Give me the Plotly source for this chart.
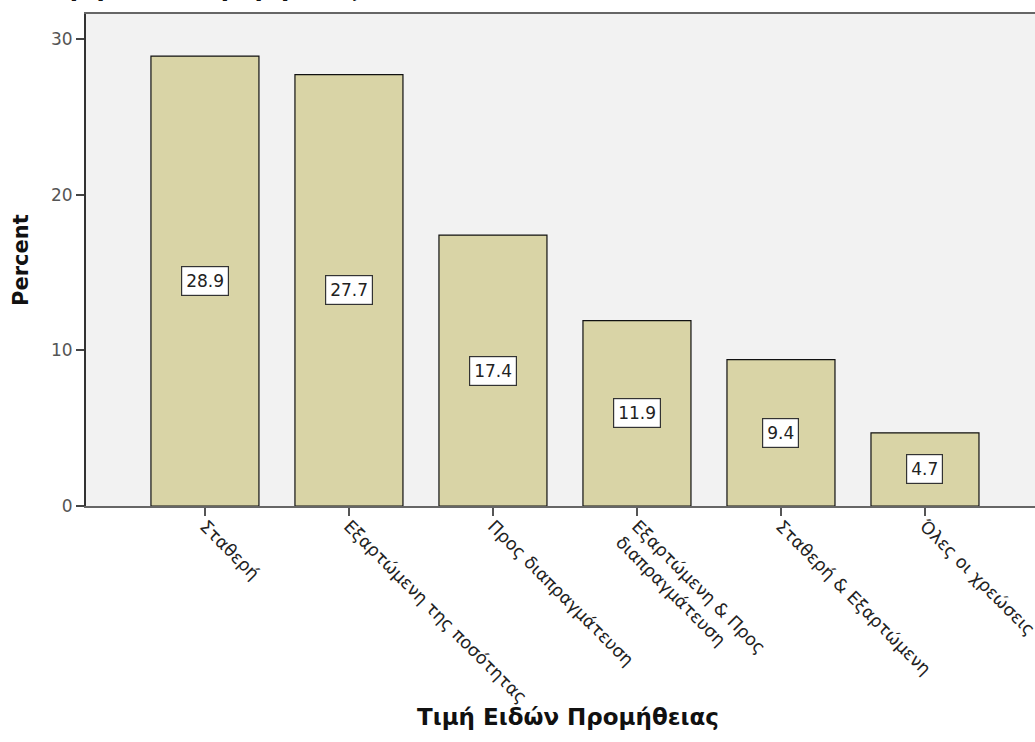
import plotly.graph_objects as go

categories = [
    "Σταθερή",
    "Εξαρτώμενη της ποσότητας",
    "Προς διαπραγμάτευση",
    "Εξαρτώμενη & Προς<br>διαπραγμάτευση",
    "Σταθερή & Εξαρτώμενη",
    "Όλες οι χρεώσεις",
]
percent = [28.9, 27.7, 17.4, 11.9, 9.4, 4.7]
y_ticks = [0, 10, 20, 30]
title_text = "Τιμή Ειδών Προμήθειας"

W, H = 1035, 742
M_L, M_R, M_T, M_B = 86, 0, 14, 236
plot_w = W - M_L - M_R
plot_h = H - M_T - M_B

positions = list(range(len(categories)))

fig = go.Figure()
fig.add_trace(go.Bar(
    x=positions,
    y=percent,
    width=0.75,
    marker=dict(color="#D9D4A6", line=dict(color="#111111", width=1.2)),
    hoverinfo="skip",
))

# value boxes in the middle of each bar
for xi, v in zip(positions, percent):
    fig.add_annotation(
        x=xi, y=v / 2, xref="x", yref="y",
        text=f"{v:.1f}", showarrow=False,
        font=dict(family="DejaVu Sans", size=17, color="#222222"),
        bgcolor="white", bordercolor="#333333", borderwidth=1.2, borderpad=4,
    )

# chart title, sitting above the top edge of the page
fig.add_annotation(
    x=(42 - M_L) / plot_w, y=1 + (M_T - 4) / plot_h,
    xref="paper", yref="paper",
    text=f"<b>{title_text}</b>", showarrow=False,
    font=dict(family="DejaVu Sans", size=24, color="#111111"),
    xanchor="left", yanchor="bottom",
)

# axis titles
fig.add_annotation(
    x=(568 - M_L) / plot_w, y=-(717 - (H - M_B)) / plot_h,
    xref="paper", yref="paper",
    text=f"<b>{title_text}</b>", showarrow=False,
    font=dict(family="DejaVu Sans", size=23, color="#111111"),
    xanchor="center", yanchor="middle",
)
fig.add_annotation(
    x=-(M_L - 21) / plot_w, y=0.5, xref="paper", yref="paper",
    text="<b>Percent</b>", showarrow=False, textangle=-90,
    font=dict(family="DejaVu Sans", size=21, color="#111111"),
    xanchor="center", yanchor="middle",
)

fig.update_layout(
    width=W, height=H,
    margin=dict(l=M_L, r=M_R, t=M_T, b=M_B, pad=0, autoexpand=False),
    paper_bgcolor="white",
    plot_bgcolor="#F2F2F2",
    showlegend=False,
    xaxis=dict(
        tickmode="array", tickvals=positions, ticktext=categories,
        range=[-0.826, 5.764],
        tickangle=45,
        ticklabelstandoff=-7,
        ticklabeloverflow="allow",
        automargin=False,
        ticks="outside", ticklen=8, tickwidth=1.5, tickcolor="#555555",
        tickfont=dict(family="DejaVu Sans", size=17.5, color="#222222"),
        showline=True, linecolor="#666666", linewidth=2, mirror=True,
        showgrid=False, zeroline=False,
    ),
    yaxis=dict(
        range=[0, 31.6],
        automargin=False,
        tickmode="array", tickvals=y_ticks,
        ticks="outside", ticklen=8, tickwidth=1.5, tickcolor="#444444",
        tickfont=dict(family="DejaVu Sans", size=17, color="#555555"),
        showline=True, linecolor="#333333", linewidth=2, mirror=False,
        showgrid=False, zeroline=False,
    ),
)

fig.write_html("out.html")
